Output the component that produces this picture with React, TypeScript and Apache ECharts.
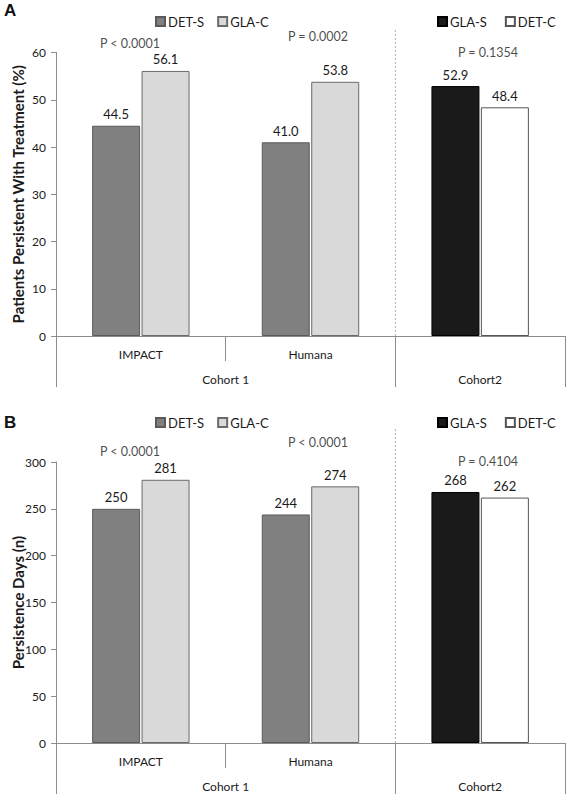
import React, { useEffect, useRef } from "react";
import * as echarts from "echarts";

const categories = ["IMPACT", "Humana", ""];
const cohortNames = ["Cohort 1", "Cohort2"];
const cohortLabelPos = [1, 2.5];
const cohortTickPos = [0, 2, 3];

// Panel A: patients persistent with treatment (%)
const detSPct = [44.5, 41.0, "-"];
const glaCPct = [56.1, 53.8, "-"];
const glaSPct = ["-", "-", 52.9];
const detCPct = ["-", "-", 48.4];
const pTextA = ["P < 0.0001", "P = 0.0002", "P = 0.1354"];
const pPosA = [
  [0.436, 61.8],
  [1.544, 63.3],
  [2.546, 59.9],
];

// Panel B: persistence days (n)
const detSDays = [250, 244, "-"];
const glaCDays = [281, 274, "-"];
const glaSDays = ["-", "-", 268];
const detCDays = ["-", "-", 262];
const pTextB = ["P < 0.0001", "P < 0.0001", "P = 0.4104"];
const pPosB = [
  [0.436, 310.7],
  [1.544, 320.3],
  [2.546, 301],
];

const FONT = "Lato";
const AXIS_COLOR = "#8c8c8c";
const TEXT_COLOR = "#1a1a1a";

const colors: Record<string, { color: string; borderColor: string }> = {
  "DET-S": { color: "#808080", borderColor: "#5a5a5a" },
  "GLA-C": { color: "#d9d9d9", borderColor: "#6a6a6a" },
  "GLA-S": { color: "#1a1a1a", borderColor: "#000000" },
  "DET-C": { color: "#ffffff", borderColor: "#555555" },
};

function barSeries(name: string, data: any[], gi: number, stack: string, decimals: number) {
  return {
    type: "bar",
    name,
    xAxisIndex: gi * 2,
    yAxisIndex: gi,
    stack,
    data,
    barWidth: 48,
    barGap: "3%",
    itemStyle: { ...colors[name], borderWidth: 1 },
    label: {
      show: true,
      position: "top",
      distance: 5,
      fontFamily: FONT,
      fontSize: 13,
      color: TEXT_COLOR,
      formatter: (p: any) => Number(p.value).toFixed(decimals),
    },
  };
}

function panel(gi: number, top: number, height: number, yMax: number, yInterval: number, yName: string, sets: any[][], pText: string[], pPos: number[][], sepTop: number, decimals: number) {
  const grid = { left: 56, right: 2, top, height, outerBoundsMode: "none", containLabel: false };
  const xCat = {
    type: "category",
    gridIndex: gi,
    position: "bottom",
    data: categories,
    axisLine: { show: true, lineStyle: { color: AXIS_COLOR, width: 1 } },
    axisTick: { show: true, length: 25, interval: 0, lineStyle: { color: AXIS_COLOR } },
    axisLabel: { interval: 0, margin: 12, fontFamily: FONT, fontSize: 12, color: TEXT_COLOR },
  };
  const xVal = {
    type: "value",
    gridIndex: gi,
    position: "bottom",
    min: 0,
    max: 3,
    axisLine: { show: false },
    splitLine: { show: false },
    axisTick: { show: true, length: 51, customValues: cohortTickPos, lineStyle: { color: AXIS_COLOR } },
    axisLabel: {
      show: true,
      margin: 37,
      customValues: cohortLabelPos,
      fontFamily: FONT,
      fontSize: 12,
      color: TEXT_COLOR,
      formatter: (v: number) => cohortNames[cohortLabelPos.indexOf(v)] ?? "",
    },
  };
  const y = {
    type: "value",
    gridIndex: gi,
    min: 0,
    max: yMax,
    interval: yInterval,
    name: yName,
    nameLocation: "middle",
    nameGap: 31,
    nameMoveOverlap: false,
    nameTextStyle: { fontFamily: FONT, fontSize: 15, fontWeight: "bold", color: TEXT_COLOR },
    axisLine: { show: true, lineStyle: { color: AXIS_COLOR } },
    axisTick: { show: true, length: 5, lineStyle: { color: AXIS_COLOR } },
    splitLine: { show: false },
    axisLabel: { margin: 10, fontFamily: FONT, fontSize: 12, color: TEXT_COLOR },
  };
  const series: any[] = [
    barSeries("DET-S", sets[0], gi, "a" + gi, decimals),
    barSeries("GLA-C", sets[1], gi, "b" + gi, decimals),
    barSeries("GLA-S", sets[2], gi, "a" + gi, decimals),
    barSeries("DET-C", sets[3], gi, "b" + gi, decimals),
    {
      type: "scatter",
      name: "p" + gi,
      xAxisIndex: gi * 2 + 1,
      yAxisIndex: gi,
      clip: false,
      symbolSize: 0,
      silent: true,
      data: pPos.map((p, i) => ({ value: p, name: pText[i] })),
      label: {
        show: true,
        position: "inside",
        formatter: (p: any) => p.name,
        fontFamily: FONT,
        fontSize: 12.5,
        color: TEXT_COLOR,
      },
    },
    {
      type: "line",
      name: "sep" + gi,
      xAxisIndex: gi * 2 + 1,
      yAxisIndex: gi,
      clip: false,
      symbol: "none",
      silent: true,
      data: [
        [2, 0],
        [2, sepTop],
      ],
      lineStyle: { color: "#b0b0b0", width: 1, type: [2, 2] },
    },
  ];
  return { grid, xAxes: [xCat, xVal], y, series };
}

export default function App() {
  const ref = useRef<HTMLDivElement>(null);
  useEffect(() => {
    if (!ref.current) return;
    const chart = echarts.init(ref.current, null, { renderer: "svg" });
    const a = panel(0, 52.5, 283.5, 60, 10, "Patients Persistent With Treatment (%)", [detSPct, glaCPct, glaSPct, detCPct], pTextA, pPosA, 65, 1);
    const b = panel(1, 462, 281, 300, 50, "Persistence Days (n)", [detSDays, glaCDays, glaSDays, detCDays], pTextB, pPosB, 336, 0);
    const legendBase = {
      icon: "rect",
      itemWidth: 9,
      itemHeight: 9,
      selectedMode: false,
      textStyle: { fontFamily: FONT, fontSize: 13, color: TEXT_COLOR, padding: [0, 0, 0, -2] },
    };
    chart.setOption({
      animation: false,
      backgroundColor: "#ffffff",
      grid: [a.grid, b.grid],
      xAxis: [...a.xAxes, ...b.xAxes],
      yAxis: [a.y, b.y],
      legend: [
        { ...legendBase, itemGap: 13, left: 150, top: 10, data: ["DET-S", "GLA-C"] },
        { ...legendBase, itemGap: 18, left: 432, top: 10, data: ["GLA-S", "DET-C"] },
        { ...legendBase, itemGap: 13, left: 150, top: 411, data: ["DET-S", "GLA-C"] },
        { ...legendBase, itemGap: 18, left: 432, top: 411, data: ["GLA-S", "DET-C"] },
      ],
      graphic: [
        { type: "text", left: 4, top: 2, style: { text: "A", font: "bold 17px 'Liberation Sans'", fill: "#111" } },
        { type: "text", left: 4, top: 414, style: { text: "B", font: "bold 17px 'Liberation Sans'", fill: "#111" } },
      ],
      series: [...a.series, ...b.series],
    });
    return () => chart.dispose();
  }, []);
  return <div ref={ref} style={{ position: "fixed", left: 0, top: 0, width: 567, height: 796, background: "#fff" }} />;
}
